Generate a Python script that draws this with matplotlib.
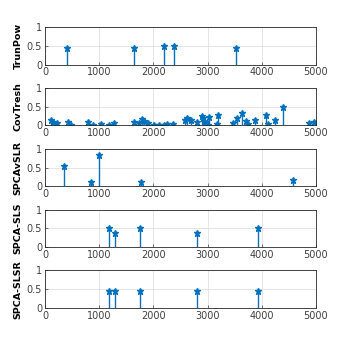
import numpy as np
import matplotlib
matplotlib.use('Agg')
import matplotlib.pyplot as plt

# data
trun_x = [400, 1648, 2189, 2374, 3518]
trun_y = [0.44, 0.44, 0.48, 0.48, 0.44]

cov_x = [111, 154, 215, 418, 480, 800, 892, 1033, 1187, 1273, 1642, 1740, 1795, 1833, 1906,
         2017, 2110, 2200, 2257, 2355, 2589, 2614, 2694, 2810, 2903, 2921, 2952, 3014, 3032,
         3167, 3198, 3475, 3549, 3629, 3709, 3752, 3875, 4071, 4108, 4250, 4391, 4865, 4963]
cov_y = [0.15, 0.09, 0.07, 0.10, 0.01, 0.08, 0.02, 0.05, 0.01, 0.06, 0.08, 0.06, 0.17, 0.11, 0.06,
         0.01, 0.02, 0.01, 0.03, 0.05, 0.15, 0.20, 0.14, 0.09, 0.26, 0.20, 0.08, 0.01, 0.23,
         0.04, 0.29, 0.06, 0.20, 0.32, 0.12, 0.03, 0.15, 0.29, 0.03, 0.15, 0.50, 0.07, 0.09]

slr_x = [357, 849, 990, 1777, 4582]
slr_y = [0.54, 0.12, 0.82, 0.12, 0.16]

sls_x = [1181, 1285, 1753, 2811, 3924]
sls_y = [0.51, 0.38, 0.50, 0.38, 0.51]

slsr_x = [1181, 1285, 1753, 2811, 3924]
slsr_y = [0.46, 0.46, 0.46, 0.46, 0.46]

names = ['TrunPow', 'CovTresh', 'SPCAvSLR', 'SPCA-SLS', 'SPCA-SLSR']
xs = [trun_x, cov_x, slr_x, sls_x, slsr_x]
ys = [trun_y, cov_y, slr_y, sls_y, slsr_y]

blue = '#0072BD'
fig = plt.figure(figsize=(3.49, 3.49), dpi=100)

left, width = 0.129, 0.776
height = 0.108
top0 = 0.923
step = 0.1745

for k in range(5):
    bottom = top0 - height - k * step
    ax = fig.add_axes([left, bottom, width, height])
    ml, sl, bl = ax.stem(xs[k], ys[k], basefmt=' ')
    plt.setp(sl, color=blue, linewidth=1.0)
    plt.setp(ml, color=blue, marker='*', markersize=4.5, markeredgewidth=1.0)
    ml.set_markerfacecolor(blue)
    ax.set_xlim(0, 5000)
    ax.set_ylim(0, 1)
    ax.set_xticks([0, 1000, 2000, 3000, 4000, 5000])
    ax.set_yticks([0, 0.5, 1])
    ax.set_yticklabels(['0', '0.5', '1'])
    ax.grid(True, color='#e0e0e0', linewidth=0.6)
    ax.set_axisbelow(True)
    ax.tick_params(labelsize=7, length=2, width=0.5, colors='#404040', direction='in', pad=2)
    for s in ax.spines.values():
        s.set_linewidth(0.6)
        s.set_color('#262626')
    ax.set_ylabel(names[k], fontsize=6.8, fontweight='bold', labelpad=3)

fig.savefig('out.png', dpi=100)
